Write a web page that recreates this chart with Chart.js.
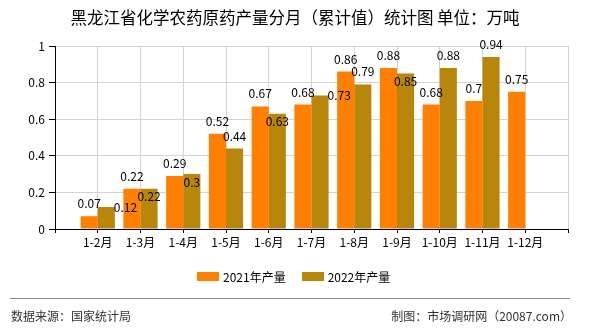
<!DOCTYPE html>
<html>
<head>
<meta charset="utf-8">
<script src="https://cdn.jsdelivr.net/npm/chart.js@4"></script>
<style>
  body { margin: 0; background: #fff; }
  #wrap { position: relative; width: 590px; height: 330px; overflow: hidden; font-family: "Noto Sans CJK SC", sans-serif; }
  #chart { position: absolute; left: 0; top: 0; }
  #title { position: absolute; top: 7px; left: 0; width: 590px; text-align: center; font-size: 16.5px; line-height: 20px; color: #000; }
  #legend { position: absolute; top: 269px; left: 197px; display: flex; align-items: center; font-size: 12px; line-height: 15px; color: #000; }
  #legend .item { display: flex; align-items: center; margin-right: 16px; }
  #legend .box { width: 22px; height: 9px; margin-right: 4px; }
  #rule { position: absolute; top: 298px; left: 10px; width: 560px; height: 1px; background: #888; }
  .foot { position: absolute; top: 308px; font-size: 12px; line-height: 15px; color: #333; }
</style>
</head>
<body>
<div id="wrap">
  <canvas id="chart" width="590" height="330"></canvas>
  <div id="title">黑龙江省化学农药原药产量分月（累计值）统计图 单位：万吨</div>
  <div id="legend"></div>
  <div id="rule"></div>
  <div class="foot" style="left:11px">数据来源：国家统计局</div>
  <div class="foot" style="right:18px">制图：市场调研网（20087.com）</div>
</div>
<script>
const months = ['1-2月', '1-3月', '1-4月', '1-5月', '1-6月', '1-7月', '1-8月', '1-9月', '1-10月', '1-11月', '1-12月'];
const output2021 = [0.07, 0.22, 0.29, 0.52, 0.67, 0.68, 0.86, 0.88, 0.68, 0.7, 0.75];
const output2022 = [0.12, 0.22, 0.3, 0.44, 0.63, 0.73, 0.79, 0.85, 0.88, 0.94, null];
const yTicks = [0, 0.2, 0.4, 0.6, 0.8, 1];

const FONT = '"Noto Sans CJK SC", sans-serif';

// empty slot before the first month and after the last, so bars sit on grid lines
const pad = (arr) => [null, ...arr, null];

// value labels; 2022 labels move inside the bar or to its right when they hit the 2021 label
const valueLabels = {
  id: 'valueLabels',
  afterDatasetsDraw(chart) {
    const ctx = chart.ctx;
    const m0 = chart.getDatasetMeta(0);
    const m1 = chart.getDatasetMeta(1);
    const d0 = chart.data.datasets[0].data;
    const d1 = chart.data.datasets[1].data;
    ctx.save();
    ctx.font = '12px ' + FONT;
    ctx.fillStyle = '#000';
    ctx.textBaseline = 'middle';
    for (let i = 0; i < d0.length; i++) {
      const v0 = d0[i];
      const v1 = d1[i];
      let box0 = null;
      if (v0 != null) {
        const b = m0.data[i];
        const t = String(v0);
        ctx.textAlign = 'center';
        ctx.fillText(t, b.x, b.y - 12.5);
        box0 = { x: b.x, y: b.y - 12.5, w: ctx.measureText(t).width };
      }
      if (v1 != null) {
        const b = m1.data[i];
        const t = String(v1);
        const w = ctx.measureText(t).width;
        let x = b.x;
        let y = b.y - 12.5;
        ctx.textAlign = 'center';
        const hit = box0 &&
          Math.abs(box0.x - x) < (box0.w + w) / 2 &&
          Math.abs(box0.y - y) < 12;
        if (hit) {
          if (v1 - v0 >= 0.03) {
            ctx.textAlign = 'left';
            x = b.x + b.width / 2 - 1;
            y = b.y;
          } else {
            y = b.y + 8;
          }
        }
        ctx.fillText(t, x, y);
      }
    }
    ctx.restore();
  }
};

const chart = new Chart(document.getElementById('chart'), {
  type: 'bar',
  data: {
    labels: ['', ...months, ''],
    datasets: [
      {
        label: '2021年产量',
        data: pad(output2021),
        backgroundColor: '#ff8000',
        categoryPercentage: 0.8,
        barPercentage: 1.0,
      },
      {
        label: '2022年产量',
        data: pad(output2022),
        backgroundColor: '#b8860b',
        categoryPercentage: 0.8,
        barPercentage: 1.0,
      },
    ],
  },
  options: {
    responsive: false,
    devicePixelRatio: 1,
    animation: false,
    layout: { padding: { left: 0, right: 22, top: 46, bottom: 81 } },
    plugins: {
      legend: { display: false },
      title: { display: false },
      tooltip: { enabled: false },
    },
    scales: {
      x: {
        offset: false,
        grid: { color: '#d4d4d4', tickColor: '#000', tickLength: 4, offset: false },
        border: { color: '#000' },
        ticks: { color: '#000', font: { family: FONT, size: 12 }, padding: 2, maxRotation: 0, autoSkip: false },
        afterFit(scale) { scale.height = 20; },
      },
      y: {
        min: 0,
        max: 1,
        grid: { color: '#d4d4d4', tickColor: '#000', tickLength: 6 },
        border: { color: '#000' },
        ticks: {
          color: '#000',
          font: { family: FONT, size: 12 },
          padding: 4,
          callback: (v) => String(v),
        },
        afterBuildTicks(scale) { scale.ticks = yTicks.map((v) => ({ value: v })); },
        afterFit(scale) { scale.width = 55; },
      },
    },
  },
  plugins: [valueLabels],
});

// legend built from the chart's datasets
const legend = document.getElementById('legend');
chart.data.datasets.forEach((ds) => {
  const item = document.createElement('div');
  item.className = 'item';
  const box = document.createElement('span');
  box.className = 'box';
  box.style.background = ds.backgroundColor;
  const txt = document.createElement('span');
  txt.textContent = ds.label;
  item.append(box, txt);
  legend.appendChild(item);
});
</script>
</body>
</html>
